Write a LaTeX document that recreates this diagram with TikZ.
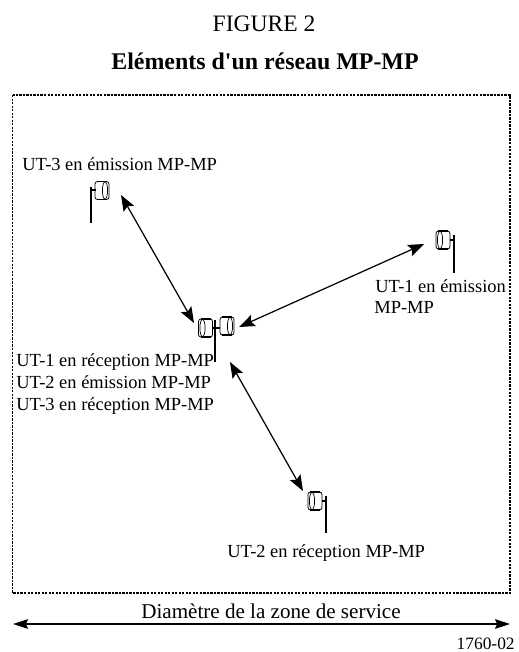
\documentclass[tikz,border=0pt]{standalone}
\usepackage{fontspec}
\setmainfont{Liberation Serif}
\usetikzlibrary{arrows.meta}
\tikzset{
  lab/.style={anchor=base west,inner sep=0pt,font=\fontsize{10.5}{12}\selectfont},
  link/.style={line width=0.7pt,{Stealth[length=9pt,width=6.8pt,inset=1.6pt]}-{Stealth[length=9pt,width=6.8pt,inset=1.6pt]}},
  mast/.style={line width=0.85pt},
  dish/.pic={
    \draw[line width=0.45pt,rounded corners=1.4pt] (-7,-9) rectangle (7,9);
    \draw[line width=0.85pt] (-5,-9) -- (5,-9) (-5,9) -- (5,9);
    \draw[line width=0.4pt] (3,0) ellipse (2.6 and 8.6);
  }
}
\begin{document}
\begin{tikzpicture}[x=0.02cm,y=-0.02cm]
  \useasboundingbox (0,0) rectangle (519,652);
  \node[anchor=base,inner sep=0pt,font=\fontsize{13.4}{15}\selectfont] (fig) at (264,31.5) {FIGURE 2};
  \node[anchor=base,inner sep=0pt,font=\fontsize{13.6}{15}\selectfont\bfseries] (title) at (265,69.5) {Eléments d\textquotesingle un réseau MP-MP};
  \draw[line width=0.9pt,dash pattern=on 1.3pt off 0.7pt] (12.5,95) rectangle (510,593);

  % antennes
  \draw[mast] (91,187) -- (91,223) (91,190) -- (96,190);
  \pic at (102,190.5) {dish};
  \draw[mast] (454,235) -- (454,273) (450,240) -- (454,240);
  \pic[xscale=-1] at (443,240) {dish};
  \draw[mast] (326,496) -- (326,533) (322,501) -- (326,501);
  \pic[xscale=-1] at (315,501) {dish};
  \draw[mast] (215,320) -- (215,362) (212,328) -- (220,328);
  \pic[xscale=-1] at (205.5,328) {dish};
  \pic at (227,326) {dish};

  \coordinate (ut3) at (121,195);
  \coordinate (ut1) at (424,244);
  \coordinate (ut2) at (303,491);
  \coordinate (cl) at (194,323);
  \coordinate (cr) at (239,327);
  \coordinate (cb) at (230,362);
  \draw[link] (ut3) -- (cl);
  \draw[link] (ut1) -- (cr);
  \draw[link] (ut2) -- (cb);

  \node[lab] (ut3lab) at (22,170) {UT-3 en émission MP-MP};
  \node[lab] (ut1lab) at (375,292) {UT-1 en émission};
  \node[lab] (ut1mp) at (374,313) {MP-MP};
  \foreach \y/\lab in {366/UT-1 en réception MP-MP,388/UT-2 en émission MP-MP,410/UT-3 en réception MP-MP} {
    \node[lab] at (16,\y) {\lab};
  }
  \node[lab] (ut2lab) at (227,557) {UT-2 en réception MP-MP};

  \coordinate (zl) at (13,624);
  \coordinate (zr) at (510,624);
  \draw[line width=1.1pt,{Stealth[length=8.5pt,width=5.4pt,inset=1.2pt]}-{Stealth[length=8.5pt,width=5.4pt,inset=1.2pt]}] (zl) -- (zr);
  \node[anchor=base,inner sep=0pt,font=\fontsize{12}{14}\selectfont] (zone) at (271,618) {Diamètre de la zone de service};
  \node[anchor=base east,inner sep=0pt,font=\fontsize{9.9}{12}\selectfont] (ref) at (515,649.5) {1760-02};
\end{tikzpicture}
\end{document}
